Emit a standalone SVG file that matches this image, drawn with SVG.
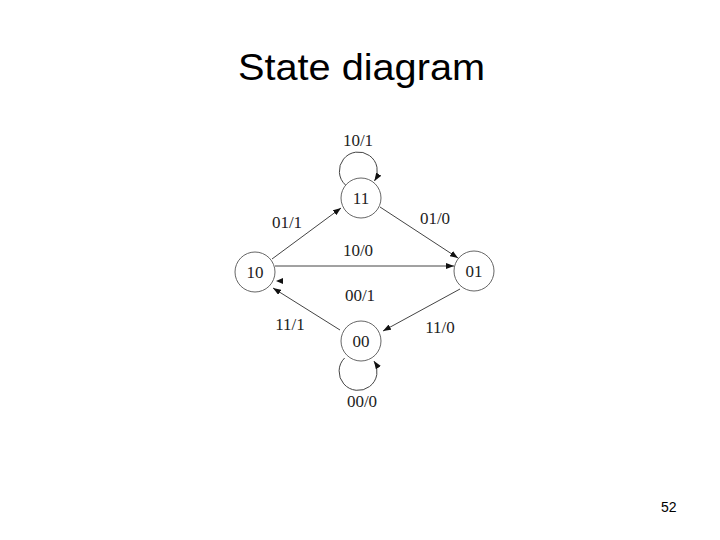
<svg xmlns="http://www.w3.org/2000/svg" width="720" height="540" viewBox="0 0 720 540">
<style>
.title{font-family:"Liberation Sans",Arial,sans-serif;font-size:36px;fill:#000}
.num{font-family:"Liberation Sans",Arial,sans-serif;font-size:14px;fill:#000}
.lbl{font-family:"Liberation Serif","Times New Roman",serif;font-size:17px;fill:#222;text-anchor:middle}
.node{fill:none;stroke:#666;stroke-width:1}
.edge{fill:none;stroke:#444;stroke-width:1}
</style>
<defs>
<marker id="ah" markerWidth="8" markerHeight="6" refX="8" refY="3" orient="auto" markerUnits="userSpaceOnUse">
<path d="M0,0 L8,3 L0,6 Z" fill="#111"/>
</marker>
</defs>
<rect width="720" height="540" fill="#fff"/>
<text class="title" x="238" y="80" textLength="247" lengthAdjust="spacingAndGlyphs">State diagram</text>
<g id="connectors">
<path class="edge" d="M345.5,185 A19,19 0 1 1 374.5,181" marker-end="url(#ah)"/>
<path class="edge" d="M344.6,358 A19,19 0 1 0 374,361" marker-end="url(#ah)"/>
<line class="edge" x1="272" y1="259" x2="341" y2="208" marker-end="url(#ah)"/>
<line class="edge" x1="380" y1="207" x2="458" y2="258" marker-end="url(#ah)"/>
<line class="edge" x1="275" y1="266" x2="454" y2="266" marker-end="url(#ah)"/>
<line class="edge" x1="460" y1="289" x2="383" y2="331" marker-end="url(#ah)"/>
<line class="edge" x1="340" y1="330" x2="273" y2="288" marker-end="url(#ah)"/>
<path d="M276,281 L283,278 L283,284 Z" fill="#111"/>
</g>
<g id="n11"><circle class="node" cx="361" cy="198" r="20"/><text class="lbl" x="361" y="204">11</text></g>
<g id="n10"><circle class="node" cx="255" cy="272" r="20"/><text class="lbl" x="255" y="278">10</text></g>
<g id="n01"><circle class="node" cx="474" cy="271" r="20"/><text class="lbl" x="474" y="277">01</text></g>
<g id="n00"><circle class="node" cx="361" cy="341" r="20"/><text class="lbl" x="361" y="347">00</text></g>
<g id="labels">
<text class="lbl" x="358" y="146">10/1</text>
<text class="lbl" x="287" y="228">01/1</text>
<text class="lbl" x="435" y="224">01/0</text>
<text class="lbl" x="358" y="256">10/0</text>
<text class="lbl" x="360" y="301">00/1</text>
<text class="lbl" x="290" y="330">11/1</text>
<text class="lbl" x="440" y="333">11/0</text>
<text class="lbl" x="362" y="407">00/0</text>
</g>
<text class="num" x="661" y="512">52</text>
</svg>
